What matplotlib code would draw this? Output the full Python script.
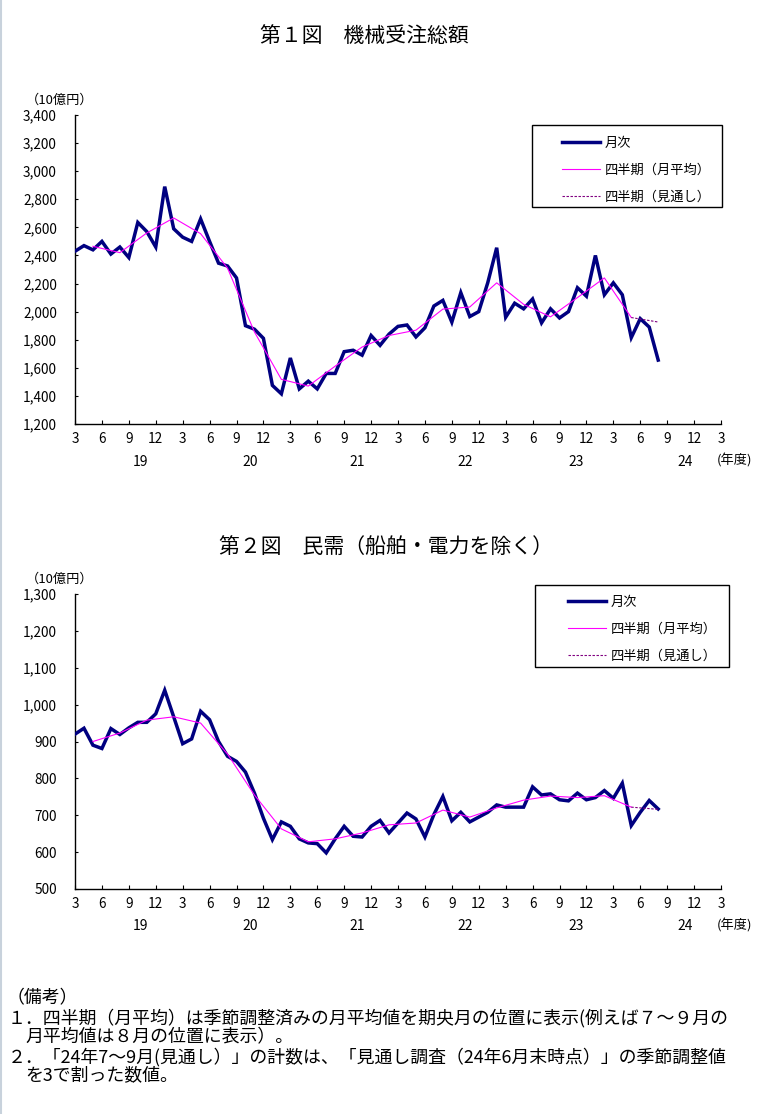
import matplotlib
matplotlib.use('Agg')
import matplotlib.pyplot as plt
from matplotlib.patches import Rectangle
from matplotlib.lines import Line2D
from matplotlib.ticker import FuncFormatter, MultipleLocator

plt.rcParams['font.family'] = ['Noto Sans CJK JP', 'DejaVu Sans']

# months counted from 2019-03 (index 0) to 2024-08 (index 65)
month_idx = list(range(66))
quarter_idx = list(range(2, 63, 3))      # mid-month of each quarter, May19 .. May24
outlook_idx = [62, 65]                   # May24 -> Aug24 (outlook)

# Fig.1 machinery orders total (10 billion yen)
total_monthly = [2430, 2470, 2440, 2500, 2410, 2460, 2385, 2635, 2570, 2460,
                 2890, 2590, 2530, 2500, 2660, 2500, 2345, 2325, 2240, 1900,
                 1875, 1810, 1475, 1415, 1670, 1450, 1505, 1450, 1560, 1560,
                 1715, 1725, 1690, 1830, 1760, 1840, 1895, 1905, 1820, 1885,
                 2040, 2080, 1925, 2135, 1965, 2000, 2205, 2455, 1960, 2060,
                 2020, 2090, 1920, 2020, 1955, 2000, 2170, 2110, 2400, 2120,
                 2205, 2120, 1815, 1950, 1890, 1655]
total_quarterly = [2465, 2420, 2560, 2667, 2555, 2310, 1855, 1518, 1470, 1612,
                   1748, 1830, 1868, 2018, 2033, 2205, 2052, 1963, 2100, 2240,
                   1958]
total_outlook = [1958, 1926]

# Fig.2 private demand excl. ships and electric power
private_monthly = [920, 936, 890, 881, 935, 919, 937, 952, 952, 975,
                   1039, 967, 894, 907, 982, 959, 900, 860, 846, 817,
                   760, 692, 634, 682, 670, 636, 625, 623, 598, 636,
                   670, 643, 641, 670, 686, 652, 679, 706, 690, 641,
                   702, 751, 685, 708, 682, 695, 708, 728, 722, 722,
                   722, 777, 755, 758, 742, 739, 760, 742, 748, 767,
                   746, 787, 672, 708, 740, 717]
private_quarterly = [900, 923, 958, 967, 950, 866, 755, 663, 628, 636,
                     652, 674, 679, 714, 695, 720, 741, 752, 748, 753,
                     722]
private_outlook = [722, 716]

tick_labels = ['3', '6', '9', '12']
fiscal_years = ['19', '20', '21', '22', '23', '24']
fy_label_pos = [7.3, 19.5, 31.5, 43.5, 55.8, 68.0]

W, H = 772, 1114
fig = plt.figure(figsize=(W / 100, H / 100), dpi=100)
fig.patch.set_facecolor('white')


def fx(px):
    return px / W


def fy(py):
    return 1 - py / H


def panel(ax, monthly, quarterly, outlook, ylim, ystep, legend_xy, box):
    ax.plot(month_idx, monthly, color='#000080', lw=2.5, label='月次',
            solid_joinstyle='miter', zorder=3)
    ax.plot(quarter_idx, quarterly, color='#ff00ff', lw=0.8,
            label='四半期（月平均）', zorder=4)
    ax.plot(outlook_idx, outlook, color='#800080', lw=0.8,
            dashes=(2.2, 1.4), label='四半期（見通し）', zorder=4)

    ax.set_xlim(0, 72)
    ax.set_ylim(*ylim)
    ax.set_xticks(range(0, 73, 3))
    ax.set_xticklabels([tick_labels[i % 4] for i in range(25)])
    ax.yaxis.set_major_locator(MultipleLocator(ystep))
    ax.yaxis.set_major_formatter(FuncFormatter(lambda v, p: f'{int(v):,}'))
    ax.tick_params(axis='x', direction='in', length=3, width=0.8,
                   pad=6, labelsize=9.8)
    ax.tick_params(axis='y', direction='in', length=2.5, width=0.8,
                   pad=13, labelsize=9.8)
    for s in ['top', 'right']:
        ax.spines[s].set_visible(False)
    for s in ['left', 'bottom']:
        ax.spines[s].set_linewidth(1.0)
    ax.patch.set_alpha(0)

    for lab, pos in zip(fiscal_years, fy_label_pos):
        ax.annotate(lab, xy=(pos, 0), xycoords=('data', 'axes fraction'),
                    xytext=(0, -27), textcoords='offset points',
                    ha='center', va='center', fontsize=10)
    ax.annotate('(年度)', xy=(1, 0), xycoords='axes fraction',
                xytext=(10, -26), textcoords='offset points',
                ha='center', va='center', fontsize=9.5)

    leg = ax.legend(loc='upper left', bbox_to_anchor=legend_xy,
                    bbox_transform=fig.transFigure, frameon=False,
                    borderpad=0, handlelength=2.9, handletextpad=0.35,
                    labelspacing=1.05, fontsize=9.5)
    x0, y0, x1, y1 = box
    fig.add_artist(Rectangle((fx(x0), fy(y1)), fx(x1) - fx(x0),
                             fy(y0) - fy(y1), transform=fig.transFigure,
                             fill=False, edgecolor='black', lw=1.0))
    return leg


ax1 = fig.add_axes([fx(75), fy(424), fx(646), 309 / H])
panel(ax1, total_monthly, total_quarterly, total_outlook, (1200, 3400), 200,
      (fx(555), fy(130)), (532, 125, 722, 207))
ax2 = fig.add_axes([fx(75), fy(889), fx(646), 295 / H])
panel(ax2, private_monthly, private_quarterly, private_outlook, (500, 1300), 100,
      (fx(561), fy(589)), (535, 585, 729, 667))

fig.text(fx(364), fy(36), '第１図　機械受注総額', ha='center', va='center',
         fontsize=15)
fig.text(fx(386), fy(547), '第２図　民需（船舶・電力を除く）', ha='center',
         va='center', fontsize=15)
fig.text(fx(60), fy(100), '（10億円）', ha='center', va='center', fontsize=9.5)
fig.text(fx(60), fy(579), '（10億円）', ha='center', va='center', fontsize=9.5)

notes = [
    (7, 998, '（備考）'),
    (8, 1018, '１．四半期（月平均）は季節調整済みの月平均値を期央月の位置に表示(例えば７～９月の'),
    (25, 1037, '月平均値は８月の位置に表示）。'),
    (8, 1057, '２．「24年7～9月(見通し）」の計数は、「見通し調査（24年6月末時点）」の季節調整値'),
    (25, 1075, 'を3で割った数値。'),
]
for x, y, t in notes:
    fig.text(fx(x), fy(y), t, ha='left', va='center', fontsize=12.9)

fig.add_artist(Line2D([0.001, 0.001], [0, 1], transform=fig.transFigure,
                      color='#c8d2dc', lw=1.5))

fig.savefig('out.png', dpi=100, facecolor='white')
